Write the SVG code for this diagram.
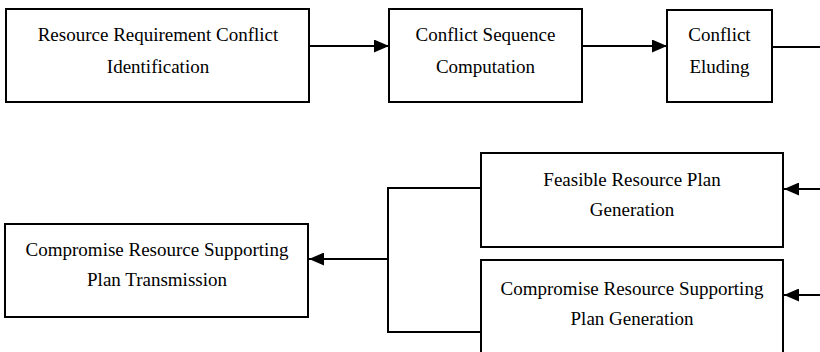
<svg xmlns="http://www.w3.org/2000/svg" width="820" height="352" viewBox="0 0 820 352">
<defs>
<style>
.box{fill:#fff;stroke:#000;stroke-width:2}
.lbl{font-family:"Liberation Serif","Times New Roman",serif;font-size:19px;fill:#000;text-anchor:middle}
.con{fill:none;stroke:#000;stroke-width:2}
</style>
<marker id="ah" markerUnits="userSpaceOnUse" markerWidth="15" markerHeight="13" refX="15" refY="6.5" orient="auto">
<path d="M0,0 L15,6.5 L0,13 z" fill="#000"/>
</marker>
</defs>
<rect width="820" height="352" fill="#fff"/>
<g id="n1">
<rect class="box" x="6" y="9" width="303" height="93"/>
<text class="lbl" x="158" y="41">Resource Requirement Conflict</text>
<text class="lbl" x="158" y="73">Identification</text>
</g>
<g id="n2">
<rect class="box" x="389" y="9" width="193" height="93"/>
<text class="lbl" x="485.5" y="41">Conflict Sequence</text>
<text class="lbl" x="485.5" y="73">Computation</text>
</g>
<g id="n3">
<rect class="box" x="667" y="10" width="105" height="92"/>
<text class="lbl" x="719.5" y="41">Conflict</text>
<text class="lbl" x="719.5" y="73">Eluding</text>
</g>
<g id="n4">
<rect class="box" x="481" y="153" width="302" height="94"/>
<text class="lbl" x="632" y="186">Feasible Resource Plan</text>
<text class="lbl" x="632" y="216">Generation</text>
</g>
<g id="n5">
<rect class="box" x="481" y="260" width="302" height="100"/>
<text class="lbl" x="632" y="295">Compromise Resource Supporting</text>
<text class="lbl" x="632" y="325">Plan Generation</text>
</g>
<g id="n6">
<rect class="box" x="5" y="224" width="303" height="93"/>
<text class="lbl" x="157" y="256">Compromise Resource Supporting</text>
<text class="lbl" x="157" y="286">Plan Transmission</text>
</g>
<g id="connectors">
<line class="con" x1="310" y1="46" x2="389" y2="46" marker-end="url(#ah)"/>
<line class="con" x1="582" y1="46" x2="667" y2="46" marker-end="url(#ah)"/>
<line class="con" x1="772" y1="47" x2="820" y2="47"/>
<line class="con" x1="820" y1="189" x2="784" y2="189" marker-end="url(#ah)"/>
<line class="con" x1="820" y1="295" x2="784" y2="295" marker-end="url(#ah)"/>
<path class="con" d="M481,188 H388 V332 H481"/>
<line class="con" x1="388" y1="259" x2="309" y2="259" marker-end="url(#ah)"/>
</g>
</svg>
